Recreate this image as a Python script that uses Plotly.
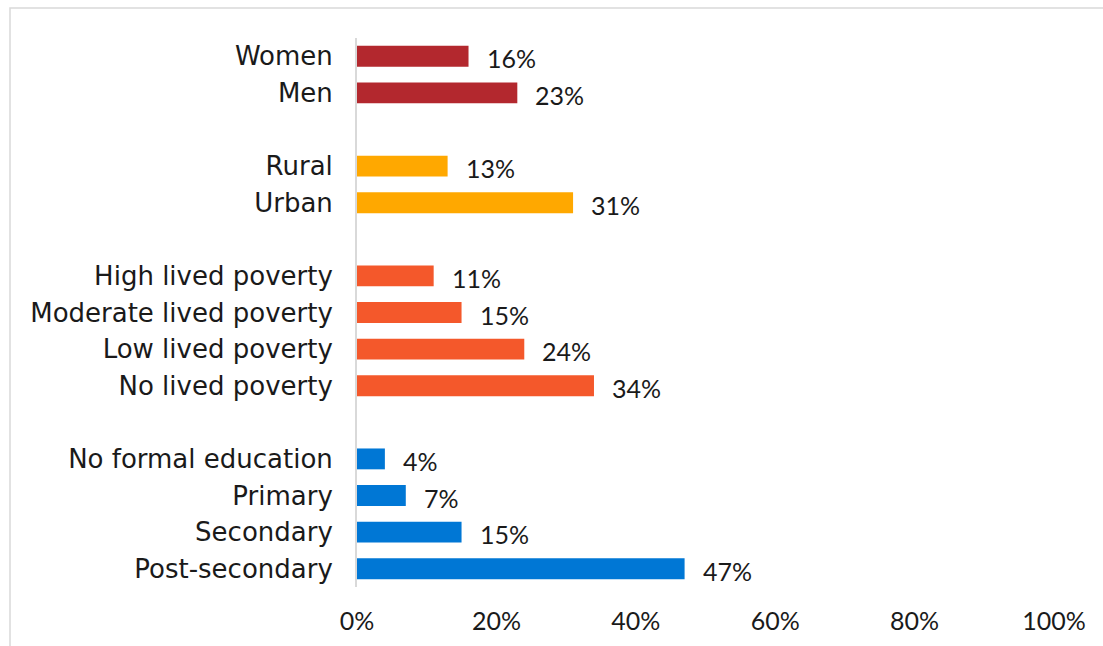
import plotly.graph_objects as go

# Survey shares by group (percent)
categories = [
    "Women", "Men",
    "Rural", "Urban",
    "High lived poverty", "Moderate lived poverty", "Low lived poverty", "No lived poverty",
    "No formal education", "Primary", "Secondary", "Post-secondary",
]
values = [16, 23, 13, 31, 11, 15, 24, 34, 4, 7, 15, 47]
groups = ["gender", "gender", "location", "location",
          "poverty", "poverty", "poverty", "poverty",
          "education", "education", "education", "education"]

group_colors = {
    "gender": "#B3282E",
    "location": "#FFA800",
    "poverty": "#F4582B",
    "education": "#0077D5",
}

x_ticks = [0, 20, 40, 60, 80, 100]
x_tick_labels = ["0%", "20%", "40%", "60%", "80%", "100%"]

# Row positions: one blank slot between consecutive groups
positions = []
pos = 0
prev = None
for g in groups:
    if prev is not None and g != prev:
        pos += 1
    positions.append(pos)
    pos += 1
    prev = g
n_slots = pos

LABEL_FONT = "DejaVu Sans"
NUM_FONT = "Lato"
TEXT_COLOR = "#1a1a1a"
W, H = 1103, 646
L, R, T, B = 357, 49, 38, 59

fig = go.Figure()
fig.add_trace(go.Bar(
    x=values,
    y=positions,
    orientation="h",
    width=0.57,
    marker=dict(color=[group_colors[g] for g in groups], line=dict(width=0)),
    hoverinfo="skip",
))

for v, p in zip(values, positions):
    fig.add_annotation(
        x=v, y=p, text=f"{v}%", showarrow=False,
        xanchor="left", yanchor="middle", xshift=16, yshift=-2,
        font=dict(family=NUM_FONT, size=25, color=TEXT_COLOR),
    )

# Outer frame
def px_to_paper_x(px):
    return (px - L) / (W - L - R)

def px_to_paper_y(py):
    return (H - B - py) / (H - T - B)

fig.add_shape(
    type="rect", xref="paper", yref="paper",
    x0=px_to_paper_x(10), x1=px_to_paper_x(W + 20),
    y0=px_to_paper_y(H + 20), y1=px_to_paper_y(8),
    line=dict(color="#D9D9D9", width=1.5), fillcolor="rgba(0,0,0,0)",
    layer="below",
)

fig.update_layout(
    width=W, height=H,
    margin=dict(l=L, r=R, t=T, b=B, pad=0),
    paper_bgcolor="white", plot_bgcolor="white",
    showlegend=False,
    font=dict(family=NUM_FONT, size=25, color=TEXT_COLOR),
    xaxis=dict(
        range=[0, 100], tickvals=x_ticks, ticktext=x_tick_labels,
        showgrid=False, zeroline=False, showline=False, ticks="",
        ticklabelstandoff=17,
        tickfont=dict(family=NUM_FONT, size=25, color=TEXT_COLOR),
        fixedrange=True,
    ),
    yaxis=dict(
        range=[n_slots - 0.5, -0.5],
        tickvals=positions, ticktext=categories,
        showgrid=False, zeroline=False, ticks="",
        showline=True, linecolor="#D9D9D9", linewidth=2,
        ticklabelstandoff=17,
        tickfont=dict(family=LABEL_FONT, size=26, color=TEXT_COLOR),
        fixedrange=True,
    ),
)

fig.write_html("out.html")
